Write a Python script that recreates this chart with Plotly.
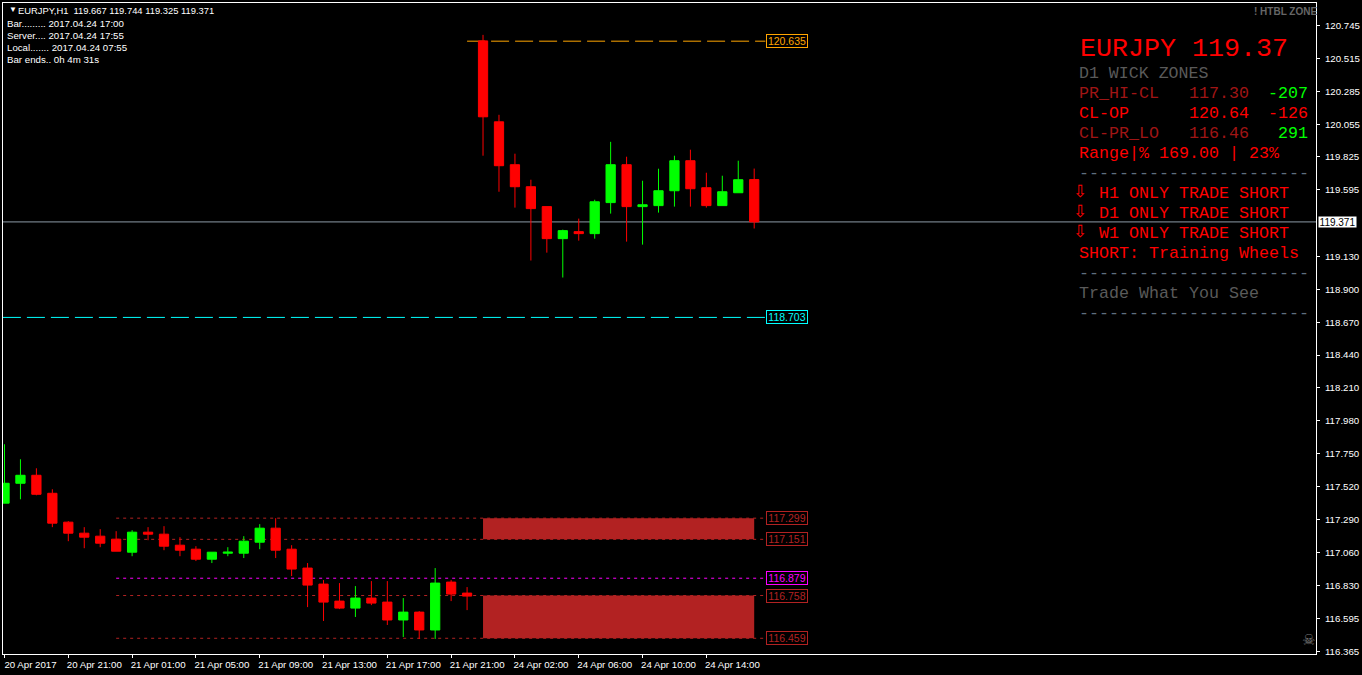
import plotly.graph_objects as go

# ---------- data ----------
bar_index = list(range(48))
opens = [117.404,117.543,117.599,117.473,117.271,117.194,117.173,117.152,117.061,117.201,117.187,117.110,
         117.082,117.012,117.054,117.054,117.131,117.229,117.082,116.950,116.838,116.719,116.670,116.740,
         116.712,116.587,116.642,116.517,116.852,116.775,120.637,120.071,119.771,119.617,119.478,119.254,
         119.303,119.289,119.506,119.771,119.478,119.485,119.589,119.799,119.610,119.485,119.575,119.667]
highs = [117.816,117.711,117.648,117.501,117.278,117.236,117.222,117.208,117.215,117.236,117.243,117.166,
         117.103,117.061,117.096,117.173,117.257,117.299,117.110,116.985,116.866,116.845,116.824,116.859,
         116.859,116.740,116.649,116.950,116.866,116.817,120.679,120.120,119.848,119.666,119.478,119.317,
         119.394,119.526,119.931,119.827,119.659,119.743,119.834,119.876,119.715,119.694,119.799,119.744]
lows = [117.404,117.431,117.459,117.236,117.138,117.089,117.096,117.068,117.033,117.145,117.075,117.033,
        116.999,116.985,117.033,117.020,117.082,117.020,116.894,116.677,116.580,116.663,116.608,116.691,
        116.552,116.468,116.454,116.454,116.719,116.656,119.834,119.582,119.471,119.101,119.156,118.982,
        119.240,119.254,119.429,119.233,119.212,119.436,119.478,119.478,119.471,119.485,119.575,119.325]
closes = [117.543,117.599,117.466,117.264,117.194,117.166,117.124,117.068,117.201,117.187,117.103,117.075,
          117.012,117.061,117.061,117.138,117.229,117.075,116.943,116.831,116.712,116.670,116.740,116.705,
          116.587,116.642,116.517,116.845,116.768,116.754,120.106,119.764,119.617,119.464,119.254,119.310,
          119.289,119.512,119.771,119.478,119.491,119.589,119.799,119.603,119.485,119.582,119.666,119.371]

x_tick_bars = [0,4,8,12,16,20,24,28,32,36,40,44]
x_tick_labels = ["20 Apr 2017","20 Apr 21:00","21 Apr 01:00","21 Apr 05:00","21 Apr 09:00","21 Apr 13:00",
                 "21 Apr 17:00","21 Apr 21:00","24 Apr 02:00","24 Apr 06:00","24 Apr 10:00","24 Apr 14:00"]
y_ticks = [120.745,120.515,120.285,120.055,119.825,119.595,119.130,118.900,118.670,118.440,118.210,
           117.980,117.750,117.520,117.290,117.060,116.830,116.595,116.365]

current_price = 119.371
level_high = 120.635
level_low = 118.703
zone_a = (117.151, 117.299)
zone_b = (116.459, 116.758)
level_mid = 116.879

header = "EURJPY,H1  119.667 119.744 119.325 119.371"
clock_lines = ["Bar......... 2017.04.24 17:00","Server.... 2017.04.24 17:55",
               "Local....... 2017.04.24 07:55","Bar ends.. 0h 4m 31s"]

# ---------- page geometry ----------
W, H = 1362, 675
L, R, T, B = 2, 1319, 2, 654
def xp(px): return (px - L) / (R - L)
def yp(py): return 1 - (py - T) / (B - T)

RED, LIME = "#FF0000", "#00FF00"
BRICK = "#B22222"
SLATE = "#5E6E7E"
GRAY = "#5A5A5A"
MAGENTA = "#FF00FF"
ORANGE = "#FFA500"
AQUA = "#00FFFF"
UI = "Liberation Sans"
MONO = "Liberation Mono"

fig = go.Figure(go.Candlestick(
    x=bar_index, open=opens, high=highs, low=lows, close=closes,
    increasing=dict(line=dict(color=LIME, width=1), fillcolor=LIME),
    decreasing=dict(line=dict(color=RED, width=1), fillcolor=RED),
    whiskerwidth=0, showlegend=False,
))

# ---------- levels ----------
def hline(x0, x1, y, color, dash, xref="x"):
    fig.add_shape(type="line", xref=xref, yref="y", x0=x0, x1=x1, y0=y, y1=y,
                  line=dict(color=color, width=1, dash=dash), layer="below")

fig.add_shape(type="line", xref="paper", yref="y", x0=0, x1=1, y0=current_price, y1=current_price,
              line=dict(color="#8C9AA6", width=1), layer="below")
hline(29.0, 47.7, level_high, ORANGE, "18px,6px")
hline(-0.1, 47.7, level_low, AQUA, "18px,6px")
for lo_hi in (zone_a, zone_b):
    fig.add_shape(type="rect", xref="x", yref="y", x0=30, x1=47, y0=lo_hi[0], y1=lo_hi[1],
                  line=dict(width=0), fillcolor=BRICK, layer="below")
    hline(7, 47.7, lo_hi[0], BRICK, "3px,4px")
    hline(7, 47.7, lo_hi[1], BRICK, "3px,4px")
hline(7, 47.7, level_mid, MAGENTA, "3px,4px")

# ---------- annotations ----------
ann = []
def text(px, py, s, color, size, family=UI, anchor="left", **kw):
    ann.append(dict(xref="paper", yref="paper", x=xp(px), y=yp(py), text=s, showarrow=False,
                    xanchor=anchor, yanchor="middle", align=anchor,
                    font=dict(color=color, size=size, family=family), **kw))

def price_tag(py_value, color, txtcolor=None):
    ann.append(dict(xref="x", yref="y", x=47.72, y=py_value, text=f"{py_value:.3f}", showarrow=False,
                    xanchor="left", yanchor="middle", width=40, height=12, borderpad=0, borderwidth=1,
                    bordercolor=color, bgcolor="#000000", align="center",
                    font=dict(color=txtcolor or color, size=10.5, family=UI)))

price_tag(level_high, ORANGE)
price_tag(level_low, AQUA)
price_tag(zone_a[1], BRICK)
price_tag(zone_a[0], BRICK)
price_tag(level_mid, MAGENTA)
price_tag(zone_b[1], BRICK)
price_tag(zone_b[0], BRICK)

text(6, 9, "▼", "#FFFFFF", 8)
text(15, 10, header, "#FFFFFF", 9.4)
for i, s in enumerate(clock_lines):
    text(4, 23 + 12 * i, s, "#FFFFFF", 9.7)
text(1322, 11, "<b>! HTBL ZONE</b>", "#666666", 10, anchor="right")
text(1311, 640, "☠", "#7A7A7A", 15, family="DejaVu Sans", anchor="center")

text(1080, 48, "EURJPY 119.37", RED, 26.67, MONO)
text(1079.5, 72.5, "D1 WICK ZONES", GRAY, 16.6, MONO)
text(1079.5, 92.5, "PR_HI-CL", "#A01515", 16.67, MONO)
text(1190, 92.5, "117.30", "#A01515", 16.67, MONO)
text(1313, 92.5, "-207", LIME, 16.67, MONO, anchor="right")
text(1079.5, 112.5, "CL-OP", RED, 16.67, MONO)
text(1190, 112.5, "120.64", RED, 16.67, MONO)
text(1313, 112.5, "-126", RED, 16.67, MONO, anchor="right")
text(1079.5, 132.5, "CL-PR_LO", "#A01515", 16.67, MONO)
text(1190, 132.5, "116.46", "#A01515", 16.67, MONO)
text(1313, 132.5, "291", LIME, 16.67, MONO, anchor="right")
text(1079.5, 152.5, "Range|% 169.00 | 23%", RED, 16.67, MONO)
text(1079.5, 172.5, "-" * 23, SLATE, 16.67, MONO)
for row, s in zip((192.5, 212.5, 232.5), ("H1", "D1", "W1")):
    text(1073.5, row - 2, "⇩", RED, 17, family="DejaVu Sans")
    text(1099.5, row, f"{s} ONLY TRADE SHORT", RED, 16.67, MONO)
text(1079.5, 252.5, "SHORT: Training Wheels", RED, 16.67, MONO)
text(1079.5, 272.5, "-" * 23, SLATE, 16.67, MONO)
text(1079.5, 292.5, "Trade What You See", GRAY, 16.67, MONO)
text(1079.5, 312.5, "-" * 23, SLATE, 16.67, MONO)

ann.append(dict(xref="paper", yref="y", x=xp(1321), y=current_price, text=f"{current_price:.3f}",
                showarrow=False, xanchor="left", yanchor="middle", width=37, height=10, borderpad=0,
                bgcolor="#FFFFFF", font=dict(color="#000000", size=10, family=UI)))

fig.update_layout(
    width=W, height=H, autosize=False,
    margin=dict(l=L, r=W - R, t=T, b=H - B, pad=0),
    paper_bgcolor="#000000", plot_bgcolor="#000000",
    showlegend=False, boxmode="overlay", boxgap=0.42, boxgroupgap=0,
    annotations=ann,
    xaxis=dict(range=[-0.094, 82.22], rangeslider=dict(visible=False), showgrid=False, zeroline=False,
               tickmode="array", tickvals=x_tick_bars, ticktext=x_tick_labels, ticks="outside",
               ticklen=3, tickwidth=1, tickcolor="#FFFFFF", showline=True, linecolor="#FFFFFF", linewidth=1,
               mirror=True, ticklabelshift=26, ticklabelstandoff=-2,
               tickfont=dict(color="#FFFFFF", size=9.7, family=UI), tickangle=0),
    yaxis=dict(range=[116.349, 120.902], side="right", showgrid=False, zeroline=False,
               tickmode="array", tickvals=y_ticks, ticktext=[f"{v:.3f}" for v in y_ticks], ticks="outside",
               ticklen=3, tickwidth=1, tickcolor="#FFFFFF", showline=True, linecolor="#FFFFFF", linewidth=1,
               mirror=True, ticklabelstandoff=3, tickfont=dict(color="#FFFFFF", size=9.7, family=UI)),
)

fig.write_html("out.html", config={"displayModeBar": False},
               post_script="document.body.style.margin='0';document.body.style.background='#000';document.body.style.overflow='hidden';")
